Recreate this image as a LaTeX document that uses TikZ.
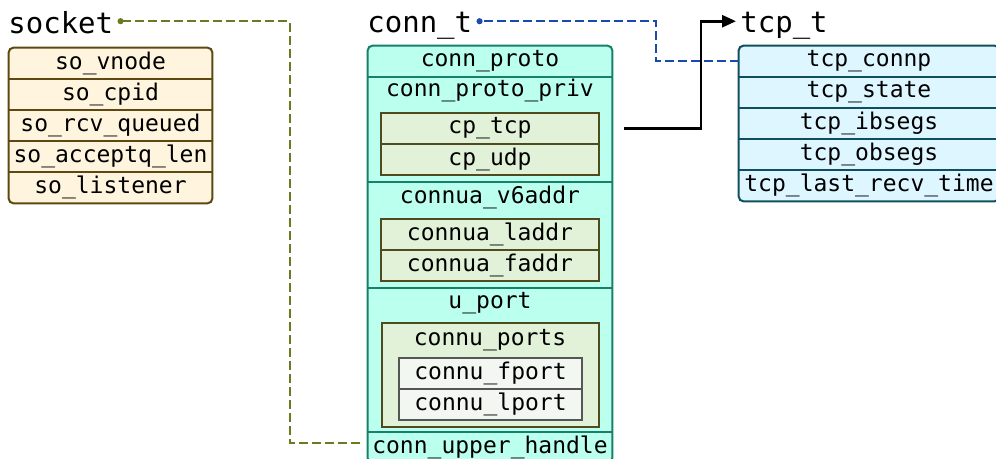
\documentclass[tikz,border=0pt]{standalone}
\usepackage{fontspec}
\setmonofont{DejaVu Sans Mono}
\usetikzlibrary{arrows.meta, positioning, fit, backgrounds}

\definecolor{sofill}{RGB}{255,245,222}
\definecolor{sodraw}{RGB}{92,72,16}
\definecolor{connfill}{RGB}{187,255,238}
\definecolor{conndraw}{RGB}{22,128,106}
\definecolor{innerfill}{RGB}{226,242,217}
\definecolor{innerdraw}{RGB}{78,76,30}
\definecolor{portfill}{RGB}{243,247,241}
\definecolor{portdraw}{RGB}{85,85,85}
\definecolor{tcpfill}{RGB}{221,246,255}
\definecolor{tcpdraw}{RGB}{14,78,94}
\definecolor{olivelink}{RGB}{107,122,30}
\definecolor{bluelink}{RGB}{24,74,176}

\begin{document}
\begin{tikzpicture}[x=0.5pt, y=-0.5pt,
			% Define styles
			title/.style={font=\ttfamily\fontsize{14.5}{16}\selectfont, inner sep=0pt, anchor=base west},
			field/.style={rectangle, inner sep=0pt, minimum height=15.5pt, align=center, font=\ttfamily\fontsize{11.5}{13}\selectfont},
			sofield/.style={field, minimum width=101.5pt},
			connfield/.style={field, minimum width=122pt},
			tcpfield/.style={field, minimum width=130pt},
			innerbox/.style={field, draw=innerdraw, line width=1pt, fill=innerfill, minimum width=109pt},
			portbox/.style={field, draw=portdraw, line width=1pt, fill=portfill, minimum width=91.5pt},
			frame/.style={rectangle, rounded corners=2.5pt, line width=1pt, inner sep=0pt},
			ptrline/.style={dashed, dash pattern=on 4.5pt off 2pt, line width=1pt, -{Circle[length=3pt]}},
			memberline/.style={line width=1.4pt, -{Triangle[length=7pt, width=6pt]}}
			]
			\useasboundingbox (0,0) rectangle (996,459);
			
			% socket
			\node[title] (socket) at (8,34) {socket};
			\node[sofield] (sovnode) at (110.5,63.5) {so\_vnode};
			\node[sofield] (socpid) at (110.5,94.5) {so\_cpid};
			\node[sofield] (sorcv) at (110.5,125.5) {so\_rcv\_queued};
			\node[sofield] (soaccept) at (110.5,156.5) {so\_acceptq\_len};
			\node[sofield] (solisten) at (110.5,187.5) {so\_listener};
			
			% conn_t
			\node[title] (connt) at (367,33) {conn\_t};
			\node[connfield] (proto) at (490,61.5) {conn\_proto};
			\node[connfield, minimum height=52.5pt] (privsec) at (490,129.5) {};
			\node[field] (privlbl) at (490,90) {conn\_proto\_priv};
			\node[innerbox] (cptcp) at (490,128.5) {cp\_tcp};
			\node[innerbox] (cpudp) at (490,159.5) {cp\_udp};
			\node[connfield, minimum height=53pt] (v6sec) at (490,235) {};
			\node[field] (v6lbl) at (490,197) {connua\_v6addr};
			\node[innerbox] (laddr) at (490,234.5) {connua\_laddr};
			\node[innerbox] (faddr) at (490,265.5) {connua\_faddr};
			\node[connfield, minimum height=72pt] (portsec) at (490,360) {};
			\node[field] (uportlbl) at (490,303) {u\_port};
			\node[innerbox, minimum width=108.5pt, minimum height=52pt] (ports) at (490.5,375) {};
			\node[field] (portslbl) at (490,340) {connu\_ports};
			\node[portbox] (fport) at (490.5,373.5) {connu\_fport};
			\node[portbox] (lport) at (490.5,404.5) {connu\_lport};
			\node[connfield] (uph) at (490,447) {conn\_upper\_handle};
			
			% tcp_t
			\node[title] (tcpt) at (740,33) {tcp\_t};
			\node[tcpfield] (connp) at (869,61.5) {tcp\_connp};
			\node[tcpfield] (state) at (869,92.5) {tcp\_state};
			\node[tcpfield] (ibsegs) at (869,123.5) {tcp\_ibsegs};
			\node[tcpfield] (obsegs) at (869,154.5) {tcp\_obsegs};
			\node[tcpfield] (lastrecv) at (869,185.5) {tcp\_last\_recv\_time};
			
			% Frames behind the fields
			\begin{scope}[on background layer]
				\node[frame, draw=sodraw, fill=sofill, fit=(sovnode)(solisten)] (sobox) {};
				\node[frame, draw=conndraw, fill=connfill, fit=(proto)(uph)] (connbox) {};
				\node[frame, draw=tcpdraw, fill=tcpfill, fit=(connp)(lastrecv)] (tcpbox) {};
			\end{scope}
			
			% Row dividers
			\foreach \r in {sovnode,socpid,sorcv,soaccept}
				\draw[sodraw, line width=1pt] (\r.south west) -- (\r.south east);
			\foreach \r in {proto,privsec,v6sec,portsec}
				\draw[conndraw, line width=1pt] (\r.south west) -- (\r.south east);
			\foreach \r in {connp,state,ibsegs,obsegs}
				\draw[tcpdraw, line width=1pt] (\r.south west) -- (\r.south east);
			
			% Pointers
			\draw[ptrline, olivelink] ([xshift=-4pt, yshift=2pt]uph.west) -- ++(-70,0) |- ([xshift=2pt, yshift=1pt]socket.east);
			\draw[ptrline, bluelink] (connp.west) -- ++(-83,0) |- ([xshift=2pt, yshift=2.5pt]connt.east);
			\draw[memberline] ([xshift=12pt]cptcp.east) -- ++(77,0) |- ([xshift=-2pt, yshift=2.5pt]tcpt.west);
			
		\end{tikzpicture}
\end{document}
